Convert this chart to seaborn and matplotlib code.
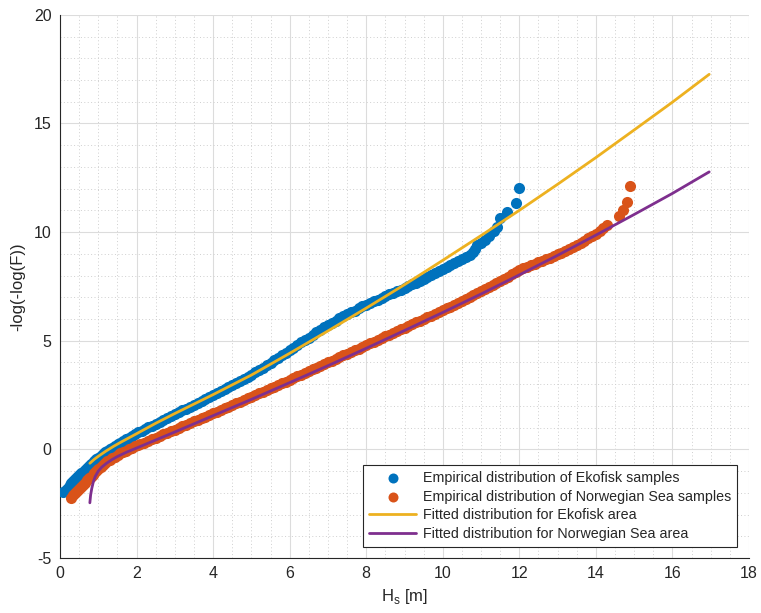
import numpy as np
import pandas as pd
import matplotlib
matplotlib.use("Agg")
import matplotlib.pyplot as plt
from matplotlib.ticker import MultipleLocator
import seaborn as sns

# Empirical Gumbel-scale plotting positions, Ekofisk samples
ekofisk_hs = [0.09, 0.15, 0.2, 0.25, 0.3, 0.35, 0.4, 0.45, 0.5, 0.55, 0.6, 0.65, 0.7, 0.75, 0.8, 0.85,
              0.9, 0.95, 1.0, 1.06, 1.12, 1.18, 1.24, 1.3, 1.37, 1.44, 1.51, 1.58, 1.65, 1.73, 1.81, 1.89,
              1.97, 2.05, 2.13, 2.22, 2.31, 2.4, 2.5, 2.6, 2.7, 2.8, 2.9, 3.0, 3.1, 3.2, 3.3, 3.4, 3.5,
              3.6, 3.7, 3.8, 3.9, 4.0, 4.1, 4.2, 4.3, 4.4, 4.5, 4.6, 4.7, 4.8, 4.9, 5.0, 5.1, 5.2, 5.3,
              5.4, 5.5, 5.6, 5.7, 5.8, 5.9, 6.0, 6.1, 6.2, 6.3, 6.4, 6.5, 6.6, 6.7, 6.8, 6.9, 7.0, 7.1,
              7.2, 7.3, 7.4, 7.5, 7.6, 7.7, 7.8, 7.9, 8.0, 8.1, 8.2, 8.3, 8.4, 8.5, 8.6, 8.7, 8.8, 8.9,
              9.0, 9.1, 9.2, 9.3, 9.4, 9.5, 9.6, 9.7, 9.8, 9.9, 10.0, 10.1, 10.2, 10.3, 10.4, 10.5, 10.6,
              10.7, 10.8, 10.85, 10.9, 11.0, 11.1, 11.2, 11.35, 11.42, 11.5, 11.68, 11.9, 12.0]
ekofisk_g = [-1.98, -1.86, -1.76, -1.66, -1.56, -1.47, -1.38, -1.29, -1.20, -1.11, -1.02, -0.94, -0.85,
             -0.77, -0.69, -0.61, -0.53, -0.46, -0.38, -0.30, -0.22, -0.14, -0.07, 0.00, 0.08, 0.16,
             0.23, 0.31, 0.38, 0.46, 0.54, 0.62, 0.70, 0.78, 0.85, 0.93, 1.01, 1.09, 1.18, 1.27, 1.36,
             1.45, 1.54, 1.63, 1.71, 1.80, 1.88, 1.97, 2.06, 2.14, 2.23, 2.32, 2.41, 2.50, 2.59, 2.68,
             2.78, 2.87, 2.96, 3.05, 3.14, 3.24, 3.34, 3.44, 3.54, 3.65, 3.76, 3.87, 3.98, 4.09, 4.20,
             4.32, 4.44, 4.56, 4.68, 4.80, 4.92, 5.03, 5.14, 5.26, 5.38, 5.50, 5.61, 5.72, 5.83, 5.93,
             6.03, 6.12, 6.21, 6.30, 6.39, 6.49, 6.58, 6.66, 6.74, 6.82, 6.89, 6.97, 7.05, 7.13, 7.20,
             7.28, 7.35, 7.43, 7.51, 7.59, 7.67, 7.76, 7.85, 7.94, 8.03, 8.12, 8.21, 8.30, 8.40, 8.50,
             8.58, 8.66, 8.75, 8.85, 8.94, 9.08, 9.22, 9.40, 9.52, 9.64, 9.80, 10.05, 10.24, 10.66,
             10.93, 11.33, 12.04]

# Empirical Gumbel-scale plotting positions, Norwegian Sea samples
norsea_hs = [0.3, 0.35, 0.4, 0.45, 0.5, 0.55, 0.6, 0.65, 0.7, 0.75, 0.8, 0.85, 0.9, 0.95, 1.0, 1.06,
             1.12, 1.18, 1.24, 1.3, 1.37, 1.44, 1.51, 1.58, 1.65, 1.73, 1.81, 1.89, 1.97, 2.05, 2.1, 2.2,
             2.3, 2.4, 2.5, 2.6, 2.7, 2.8, 2.9, 3.0, 3.1, 3.2, 3.3, 3.4, 3.5, 3.6, 3.7, 3.8, 3.9, 4.0,
             4.1, 4.2, 4.3, 4.4, 4.5, 4.6, 4.7, 4.8, 4.9, 5.0, 5.1, 5.2, 5.3, 5.4, 5.5, 5.6, 5.7, 5.8,
             5.9, 6.0, 6.1, 6.2, 6.3, 6.4, 6.5, 6.6, 6.7, 6.8, 6.9, 7.0, 7.1, 7.2, 7.3, 7.4, 7.5, 7.6,
             7.7, 7.8, 7.9, 8.0, 8.1, 8.2, 8.3, 8.4, 8.5, 8.6, 8.7, 8.8, 8.9, 9.0, 9.1, 9.2, 9.3, 9.4,
             9.5, 9.6, 9.7, 9.8, 9.9, 10.0, 10.1, 10.2, 10.3, 10.4, 10.5, 10.6, 10.7, 10.8, 10.9, 11.0,
             11.1, 11.2, 11.3, 11.4, 11.5, 11.6, 11.7, 11.8, 11.9, 12.0, 12.1, 12.2, 12.3, 12.4, 12.5,
             12.6, 12.7, 12.8, 12.9, 13.0, 13.1, 13.2, 13.3, 13.4, 13.5, 13.6, 13.7, 13.8, 13.9, 14.0,
             14.1, 14.18, 14.28, 14.6, 14.7, 14.8, 14.89]
norsea_g = [-2.23, -2.12, -2.02, -1.92, -1.82, -1.72, -1.62, -1.53, -1.43, -1.34, -1.25, -1.16, -1.07,
            -0.99, -0.91, -0.81, -0.72, -0.63, -0.55, -0.48, -0.40, -0.33, -0.26, -0.19, -0.13, -0.06,
            0.01, 0.07, 0.14, 0.20, 0.24, 0.31, 0.39, 0.46, 0.54, 0.61, 0.69, 0.76, 0.84, 0.91, 0.99,
            1.06, 1.14, 1.21, 1.29, 1.36, 1.44, 1.51, 1.59, 1.66, 1.74, 1.81, 1.89, 1.97, 2.04, 2.12,
            2.19, 2.27, 2.35, 2.42, 2.50, 2.58, 2.65, 2.73, 2.81, 2.88, 2.96, 3.04, 3.12, 3.20, 3.28,
            3.36, 3.44, 3.52, 3.60, 3.68, 3.76, 3.84, 3.92, 4.00, 4.08, 4.16, 4.24, 4.32, 4.40, 4.48,
            4.56, 4.64, 4.72, 4.80, 4.88, 4.96, 5.04, 5.12, 5.20, 5.28, 5.36, 5.44, 5.52, 5.60, 5.68,
            5.76, 5.84, 5.92, 6.00, 6.08, 6.16, 6.24, 6.32, 6.40, 6.49, 6.57, 6.66, 6.74, 6.83, 6.92,
            7.01, 7.10, 7.19, 7.28, 7.37, 7.47, 7.56, 7.66, 7.76, 7.86, 7.95, 8.05, 8.14, 8.24, 8.33,
            8.40, 8.47, 8.54, 8.61, 8.68, 8.75, 8.83, 8.90, 8.97, 9.05, 9.14, 9.23, 9.32, 9.41, 9.51,
            9.61, 9.71, 9.82, 9.93, 10.05, 10.17, 10.32, 10.73, 11.00, 11.39, 12.11]

# Fitted distributions on the same Gumbel scale
fit_eko_hs = [0.78, 0.9, 1.0, 1.2, 1.4, 1.6, 1.8, 2.0, 2.5, 3.0, 4.0, 5.0, 6.0, 7.0, 8.0, 9.0, 10.0,
              11.0, 12.0, 13.0, 14.0, 15.0, 16.0, 16.96]
fit_eko_g = [-0.64, -0.45, -0.32, -0.08, 0.14, 0.34, 0.53, 0.72, 1.2, 1.65, 2.52, 3.42, 4.42, 5.45,
             6.5, 7.58, 8.7, 9.84, 11.0, 12.2, 13.43, 14.7, 15.98, 17.26]
fit_nor_hs = [0.78, 0.8, 0.83, 0.87, 0.92, 1.0, 1.09, 1.2, 1.35, 1.5, 1.75, 2.0, 2.5, 3.0, 4.0, 5.0,
              6.0, 7.0, 8.0, 9.0, 10.0, 11.0, 12.0, 13.0, 14.0, 15.0, 16.0, 16.96]
fit_nor_g = [-2.46, -2.1, -1.8, -1.5, -1.25, -1.0, -0.82, -0.66, -0.48, -0.33, -0.12, 0.06, 0.43, 0.8,
             1.55, 2.3, 3.07, 3.85, 4.65, 5.47, 6.3, 7.15, 8.03, 8.93, 9.86, 10.81, 11.78, 12.77]

BLUE, ORANGE, YELLOW, PURPLE = "#0072BD", "#D95319", "#EDB120", "#7E2F8E"
DARK = "#262626"

sns.set_style("white")
plt.rcParams["font.family"] = ["Liberation Sans", "DejaVu Sans"]
plt.rcParams["mathtext.fontset"] = "custom"
plt.rcParams["mathtext.rm"] = "Liberation Sans"
plt.rcParams["axes.unicode_minus"] = False

fig = plt.figure(figsize=(7.61, 6.13), dpi=100)
ax = fig.add_axes([60 / 761, 55 / 613, 689 / 761, 543.2 / 613])

df_eko = pd.DataFrame({"Hs": ekofisk_hs, "G": ekofisk_g})
df_nor = pd.DataFrame({"Hs": norsea_hs, "G": norsea_g})
df_fe = pd.DataFrame({"Hs": fit_eko_hs, "G": fit_eko_g})
df_fn = pd.DataFrame({"Hs": fit_nor_hs, "G": fit_nor_g})

sns.scatterplot(data=df_eko, x="Hs", y="G", ax=ax, color=BLUE, s=64, linewidth=0,
                label="Empirical distribution of Ekofisk samples", zorder=3)
sns.scatterplot(data=df_nor, x="Hs", y="G", ax=ax, color=ORANGE, s=64, linewidth=0,
                label="Empirical distribution of Norwegian Sea samples", zorder=3)
sns.lineplot(data=df_fe, x="Hs", y="G", ax=ax, color=YELLOW, linewidth=2.0, sort=False,
             estimator=None, label="Fitted distribution for Ekofisk area", zorder=4)
sns.lineplot(data=df_fn, x="Hs", y="G", ax=ax, color=PURPLE, linewidth=2.0, sort=False,
             estimator=None, label="Fitted distribution for Norwegian Sea area", zorder=4)

ax.set_xlim(0, 18)
ax.set_ylim(-5, 20)
ax.xaxis.set_major_locator(MultipleLocator(2))
ax.xaxis.set_minor_locator(MultipleLocator(0.5))
ax.yaxis.set_major_locator(MultipleLocator(5))
ax.yaxis.set_minor_locator(MultipleLocator(1))

ax.grid(which="major", color="#dcdcdc", linewidth=0.8, linestyle="-")
ax.grid(which="minor", color="#cfcfcf", linewidth=0.7, linestyle=(0, (1, 2.5)))
ax.set_axisbelow(True)

for side in ("top", "right"):
    ax.spines[side].set_visible(False)
for side in ("left", "bottom"):
    ax.spines[side].set_color(DARK)
    ax.spines[side].set_linewidth(0.8)

ax.tick_params(which="major", direction="in", length=5, width=0.8, color=DARK,
               labelcolor=DARK, labelsize=11.5, pad=6)
ax.tick_params(which="minor", length=0)

ax.set_xlabel(r"H$_\mathregular{s}$ [m]", fontsize=12, color=DARK, labelpad=4)
ax.set_ylabel("-log(-log(F))", fontsize=12, color=DARK, labelpad=6)

leg = ax.legend(loc="lower right", bbox_to_anchor=(0.983, 0.021), fontsize=10.3, frameon=True,
                fancybox=False, framealpha=1, edgecolor=DARK, borderpad=0.4, labelspacing=0.32,
                handlelength=3.3, handletextpad=0.5, borderaxespad=0, markerscale=0.9)
leg.get_frame().set_linewidth(0.8)

fig.savefig("out.png", dpi=100)
